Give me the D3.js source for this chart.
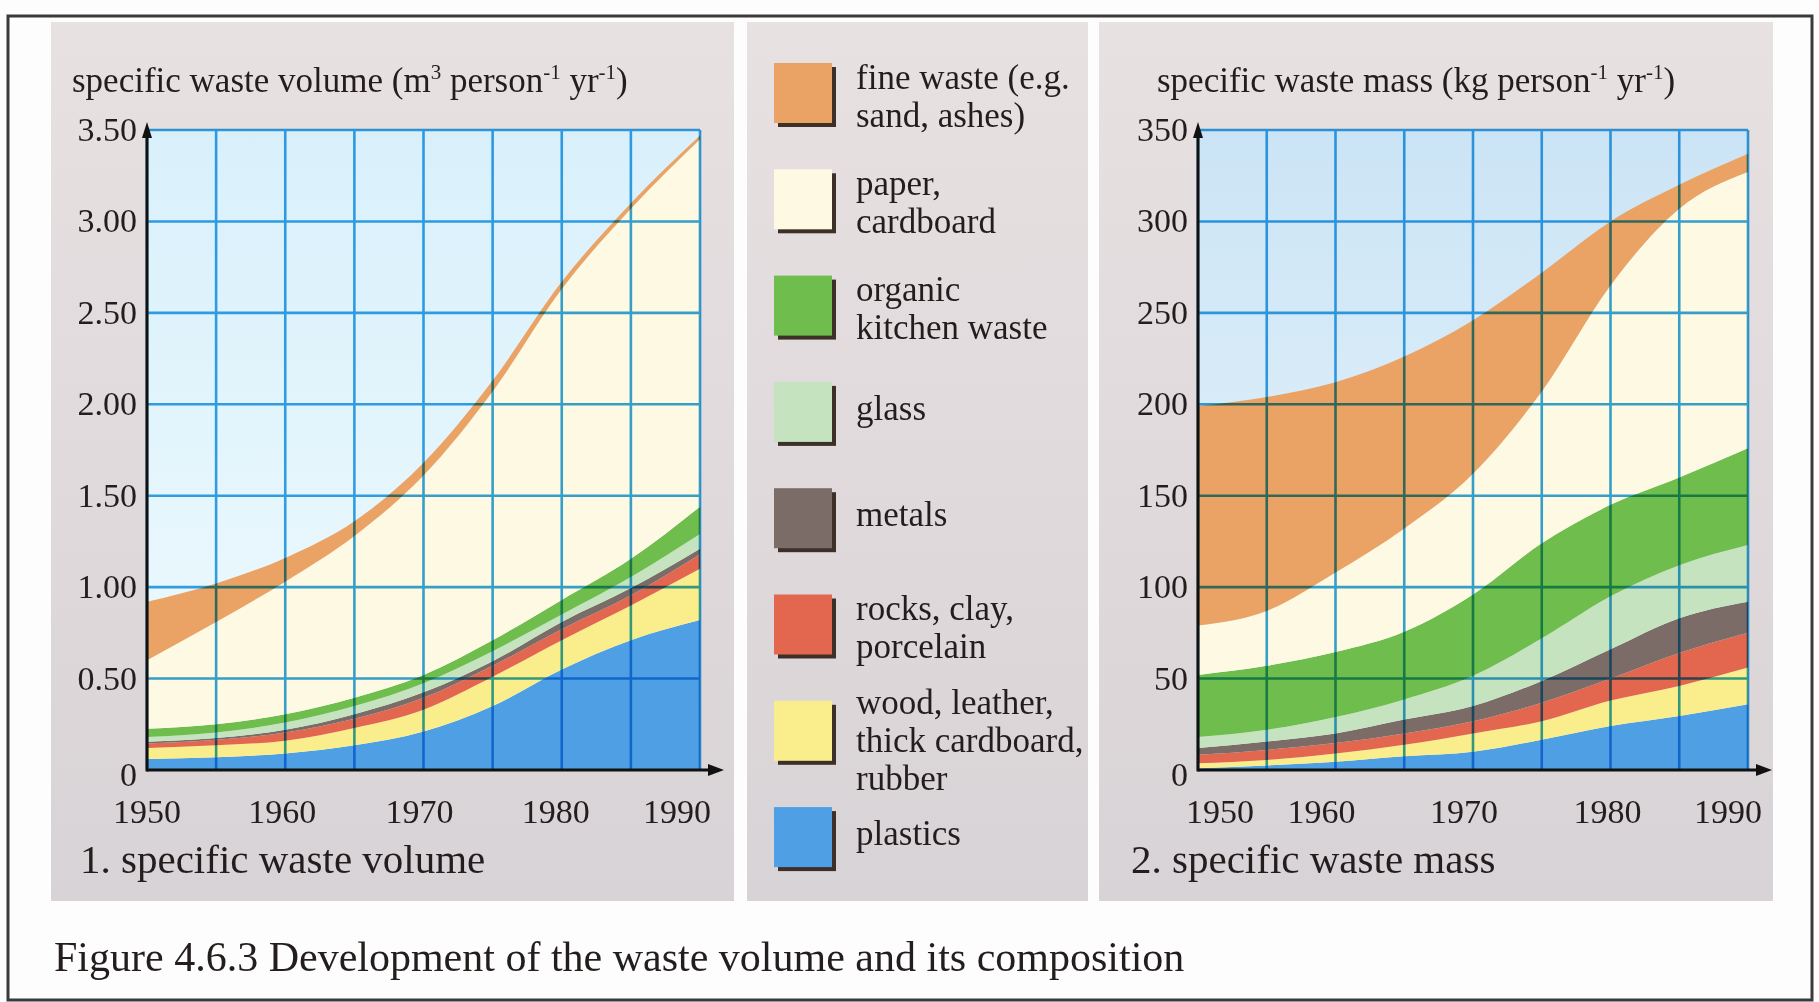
<!DOCTYPE html>
<html><head><meta charset="utf-8">
<script src="https://cdn.jsdelivr.net/npm/d3@7"></script>
<style>
html,body{margin:0;padding:0;background:#fff;}
svg{display:block;}
text{font-family:"Liberation Serif","Times New Roman",serif;fill:#231d1d;}
</style></head><body>
<svg id="c" width="1819" height="1002"></svg>
<script>
// ---------- data ----------
const years = [1950, 1955, 1960, 1965, 1970, 1975, 1980, 1985, 1990];
const categories = ["plastics", "wood", "rocks", "metals", "glass", "organic", "paper", "fine"];
const legendLabels = [
  ["fine waste (e.g.", "sand, ashes)"],
  ["paper,", "cardboard"],
  ["organic", "kitchen waste"],
  ["glass"],
  ["metals"],
  ["rocks, clay,", "porcelain"],
  ["wood, leather,", "thick cardboard,", "rubber"],
  ["plastics"]
];
const legendOrder = ["fine", "paper", "organic", "glass", "metals", "rocks", "wood", "plastics"];

// specific waste volume (m3 person-1 yr-1)
const volPlastics = [0.06, 0.07, 0.09, 0.135, 0.21, 0.35, 0.55, 0.71, 0.82];
const volWood     = [0.06, 0.065, 0.07, 0.095, 0.12, 0.16, 0.16, 0.19, 0.28];
const volRocks    = [0.025, 0.03, 0.045, 0.05, 0.065, 0.06, 0.06, 0.055, 0.08];
const volMetals   = [0.01, 0.01, 0.015, 0.025, 0.03, 0.025, 0.04, 0.04, 0.03];
const volGlass    = [0.025, 0.03, 0.04, 0.045, 0.05, 0.055, 0.04, 0.06, 0.08];
const volOrganic  = [0.045, 0.045, 0.045, 0.045, 0.045, 0.06, 0.08, 0.10, 0.15];
const volPaper    = [0.375, 0.56, 0.725, 0.885, 1.09, 1.36, 1.70, 1.915, 2.01];
const volFine     = [0.32, 0.21, 0.13, 0.08, 0.07, 0.06, 0.04, 0.03, 0.02];

// specific waste mass (kg person-1 yr-1)
const massPlastics = [1, 2.5, 4.5, 7.5, 10, 16.5, 24, 29.5, 36];
const massWood     = [2.7, 3, 4.5, 6.3, 10, 10.2, 14, 16.5, 20];
const massRocks    = [4.6, 5.5, 5.7, 6.2, 6.7, 10.1, 12, 18, 19];
const massMetals   = [3.7, 4.6, 5.3, 7.6, 8.3, 11.9, 16, 19, 17];
const massGlass    = [6, 6.4, 9, 11, 16.5, 23.3, 29, 29, 31];
const massOrganic  = [34, 35, 35.5, 37, 44.5, 52, 50, 48, 53];
const massPaper    = [27, 30, 43.5, 56.5, 66, 83, 120, 147, 151];
const massFine     = [120, 117, 104, 94, 84, 65, 35, 13, 10];

const volTicks  = [0, 0.5, 1, 1.5, 2, 2.5, 3, 3.5];
const massTicks = [0, 50, 100, 150, 200, 250, 300, 350];
const yearTicks = [1950, 1960, 1970, 1980, 1990];
const gridYears = [1950, 1955, 1960, 1965, 1970, 1975, 1980, 1985, 1990];

const colors = {
  fine: "#eba265", paper: "#fdf9e2", organic: "#6fbd4c", glass: "#c6e3c0",
  metals: "#7c6c68", rocks: "#e3674f", wood: "#faee8c", plastics: "#4f9fe4"
};

// ---------- drawing ----------
const svg = d3.select("#c");
const defs = svg.append("defs");

const pg = defs.append("linearGradient").attr("id", "panel").attr("x1", 0).attr("y1", 0).attr("x2", 0).attr("y2", 1);
pg.append("stop").attr("offset", "0%").attr("stop-color", "#e8e1e2");
pg.append("stop").attr("offset", "100%").attr("stop-color", "#d8d3d6");

function sky(id, top, bottom) {
  const g = defs.append("linearGradient").attr("id", id).attr("x1", 0).attr("y1", 0).attr("x2", 0).attr("y2", 1);
  g.append("stop").attr("offset", "0%").attr("stop-color", top);
  g.append("stop").attr("offset", "100%").attr("stop-color", bottom);
}
sky("sky1", "#d9f0fb", "#eefafd");
sky("sky2", "#cbe4f5", "#eaf6fc");

// white page + outer frame
svg.append("rect").attr("width", 1819).attr("height", 1002).attr("fill", "#fdfdfd");
svg.append("rect").attr("x", 8).attr("y", 16).attr("width", 1804).attr("height", 984)
  .attr("fill", "none").attr("stroke", "#3a3a3a").attr("stroke-width", 3);

// panels
[[51, 734], [747, 1088], [1099, 1773]].forEach(([a, b]) => {
  svg.append("rect").attr("x", a).attr("y", 22).attr("width", b - a).attr("height", 879).attr("fill", "url(#panel)");
});

function drawChart(cfg) {
  const top = 130, bottom = 770;
  const x = d3.scaleLinear().domain([1950, 1990]).range([cfg.x0, cfg.x1]);
  const y = d3.scaleLinear().domain([0, cfg.max]).range([bottom, top]);
  const rows = years.map((yr, i) => {
    const o = { year: yr };
    categories.forEach(c => { o[c] = cfg.data[c][i]; });
    return o;
  });
  const series = d3.stack().keys(categories)(rows);
  const g = svg.append("g");

  g.append("rect").attr("x", cfg.x0).attr("y", top).attr("width", cfg.x1 - cfg.x0).attr("height", bottom - top)
    .attr("fill", `url(#${cfg.sky})`);

  const area = d3.area()
    .x(d => x(d.data.year)).y0(d => y(d[0])).y1(d => y(d[1]))
    .curve(d3.curveMonotoneX);
  g.selectAll("path.layer").data(series).join("path").attr("class", "layer")
    .attr("d", area).attr("fill", d => colors[d.key]);

  // grid (multiply like printed ink)
  const grid = g.append("g").style("mix-blend-mode", "multiply")
    .attr("stroke", "#35a3e4").attr("stroke-width", 2.6);
  grid.selectAll("line.v").data(gridYears).join("line").attr("class", "v")
    .attr("x1", d => x(d)).attr("x2", d => x(d)).attr("y1", top).attr("y2", bottom);
  grid.selectAll("line.h").data(cfg.ticks.filter(t => t > 0)).join("line").attr("class", "h")
    .attr("x1", cfg.x0).attr("x2", cfg.x1).attr("y1", d => y(d)).attr("y2", d => y(d));

  // axes
  const ax = g.append("g");
  ax.append("line").attr("x1", cfg.x0).attr("x2", cfg.x0).attr("y1", bottom + 1.5).attr("y2", top - 2)
    .attr("stroke", "#111").attr("stroke-width", 3);
  ax.append("path").attr("d", `M${cfg.x0 - 5},${top + 8} L${cfg.x0},${top - 8} L${cfg.x0 + 5},${top + 8} Z`).attr("fill", "#111");
  ax.append("line").attr("x1", cfg.x0).attr("x2", cfg.x1 + 14).attr("y1", bottom).attr("y2", bottom)
    .attr("stroke", "#111").attr("stroke-width", 3);
  ax.append("path").attr("d", `M${cfg.x1 + 8},${bottom - 6} L${cfg.x1 + 24},${bottom} L${cfg.x1 + 8},${bottom + 6} Z`).attr("fill", "#111");

  // y tick labels
  g.selectAll("text.yt").data(cfg.ticks).join("text").attr("class", "yt")
    .attr("x", cfg.x0 - 10).attr("y", d => y(d) + (d === 0 ? 16 : 11))
    .attr("text-anchor", "end").attr("font-size", 34)
    .text(cfg.fmt);

  // x tick labels
  g.selectAll("text.xt").data(yearTicks).join("text").attr("class", "xt")
    .attr("x", (d, i) => x(d) + cfg.labelShift[i])
    .attr("y", 823).attr("text-anchor", "middle").attr("font-size", 34)
    .text(d => d);

  // axis title with superscripts
  const t = g.append("text").attr("x", cfg.titleX).attr("y", 92).attr("font-size", 35);
  let raised = false;
  cfg.title.forEach(p => {
    if (p.sup) {
      t.append("tspan").attr("dy", -13).attr("font-size", 21).text(p.t);
      raised = true;
    } else {
      const s = t.append("tspan").text(p.t);
      if (raised) { s.attr("dy", 13); raised = false; }
    }
  });

  g.append("text").attr("x", cfg.subX).attr("y", 873).attr("font-size", 41).text(cfg.subtitle);
}

drawChart({
  x0: 147, x1: 700, max: 3.5, ticks: volTicks, sky: "sky1",
  fmt: d => d === 0 ? "0" : d3.format(".2f")(d),
  labelShift: [0, -3, -4, -6, -23],
  data: { plastics: volPlastics, wood: volWood, rocks: volRocks, metals: volMetals,
          glass: volGlass, organic: volOrganic, paper: volPaper, fine: volFine },
  titleX: 72,
  title: [{ t: "specific waste volume (m" }, { t: "3", sup: true }, { t: " person" }, { t: "-1", sup: true },
          { t: " yr" }, { t: "-1", sup: true }, { t: ")" }],
  subX: 80, subtitle: "1. specific waste volume"
});

drawChart({
  x0: 1198, x1: 1748, max: 350, ticks: massTicks, sky: "sky2",
  fmt: d => String(d),
  labelShift: [22, -14, -9, -3, -20],
  data: { plastics: massPlastics, wood: massWood, rocks: massRocks, metals: massMetals,
          glass: massGlass, organic: massOrganic, paper: massPaper, fine: massFine },
  titleX: 1157,
  title: [{ t: "specific waste mass (kg person" }, { t: "-1", sup: true }, { t: " yr" }, { t: "-1", sup: true }, { t: ")" }],
  subX: 1131, subtitle: "2. specific waste mass"
});

// legend
const leg = svg.append("g");
legendOrder.forEach((key, i) => {
  const top = 63 + i * 106.3;
  const c = top + 30;
  leg.append("rect").attr("x", 778).attr("y", top + 4).attr("width", 58).attr("height", 60).attr("fill", "#3d3029");
  leg.append("rect").attr("x", 774).attr("y", top).attr("width", 58).attr("height", 60).attr("fill", colors[key]);
  const lines = legendLabels[i];
  const first = c + 8 - (lines.length - 1) * 12.5;
  const tx = leg.append("text").attr("x", 856).attr("y", first).attr("font-size", 35);
  lines.forEach((ln, j) => tx.append("tspan").attr("x", 856).attr("dy", j === 0 ? 0 : 38).text(ln));
});

// caption
svg.append("text").attr("x", 54).attr("y", 971).attr("font-size", 42)
  .text("Figure 4.6.3 Development of the waste volume and its composition");
</script>
</body></html>
